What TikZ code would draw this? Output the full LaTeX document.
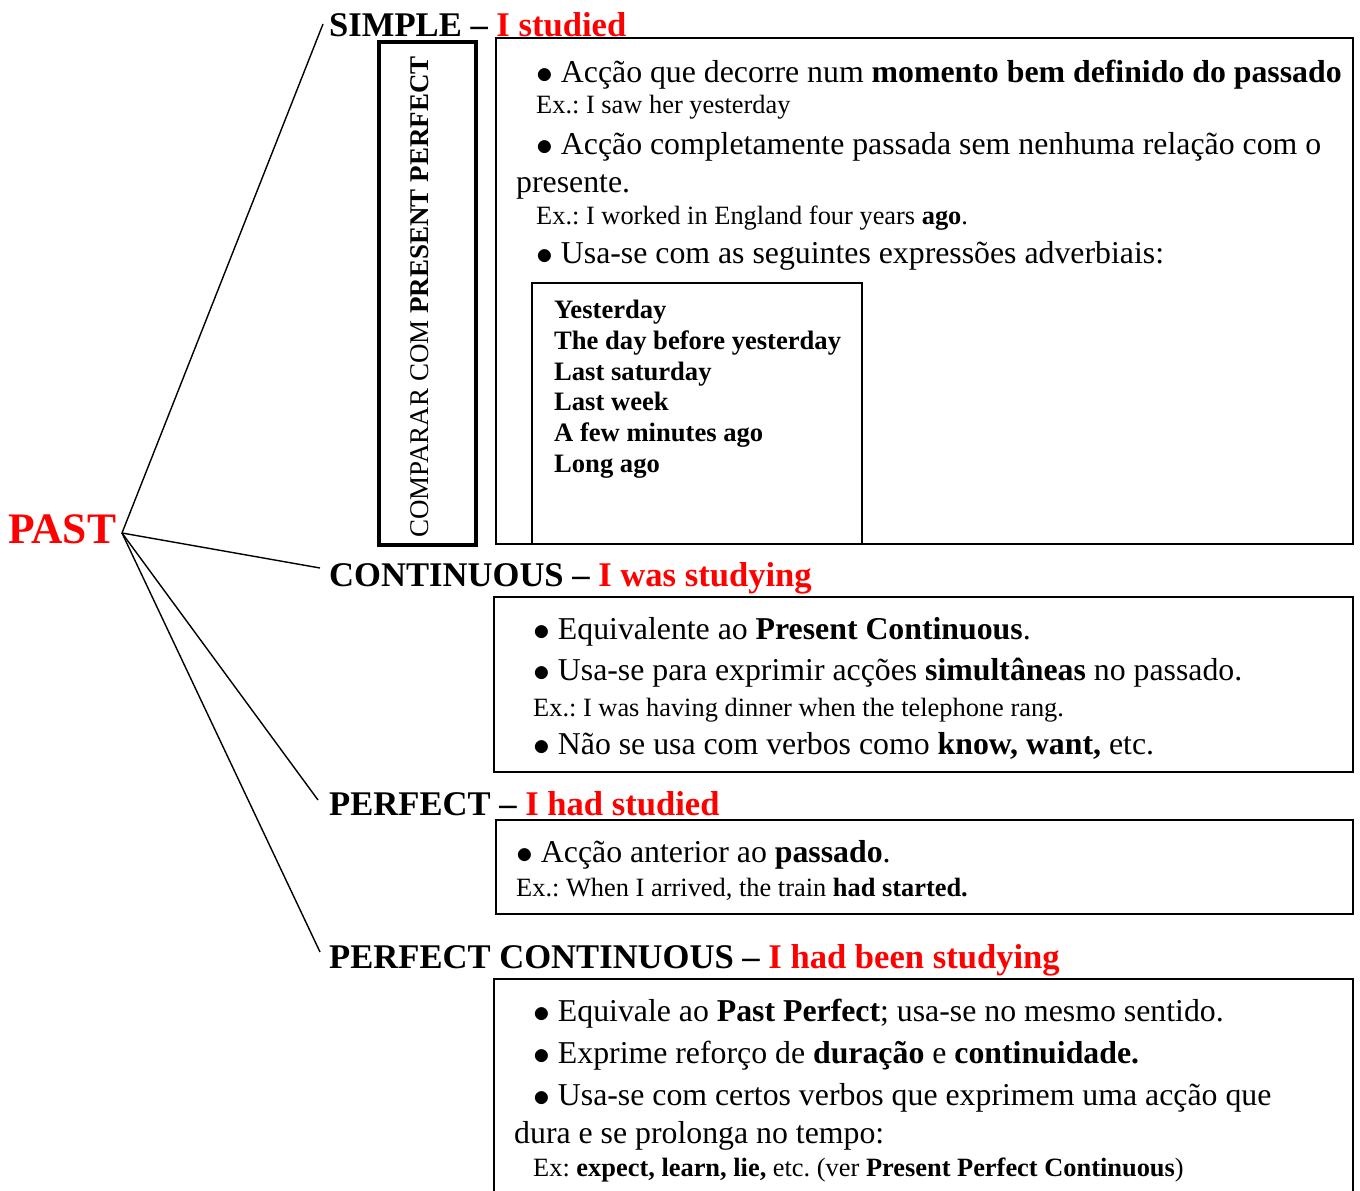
\documentclass[tikz,border=0pt]{standalone}
\usepackage{graphicx}
\usepackage{fontspec}
\setmainfont{Liberation Serif}
\frenchspacing
\definecolor{pastred}{RGB}{255,0,0}
\newcommand{\bul}{\raisebox{-0.06em}{\scalebox{1.35}{$\bullet$}}}
\tikzset{
  hdr/.style={anchor=base west, inner sep=0pt, font=\bfseries\fontsize{34.6}{35}\selectfont},
  body/.style={anchor=base west, inner sep=0pt, font=\fontsize{31.8}{32}\selectfont},
  exline/.style={anchor=base west, inner sep=0pt, font=\fontsize{26.4}{27}\selectfont},
  lst/.style={anchor=base west, inner sep=0pt, font=\bfseries\fontsize{26.6}{27}\selectfont},
  thinbox/.style={draw, line width=1.6pt},
  conn/.style={line width=1.4pt},
}
\begin{document}
\begin{tikzpicture}[x=1pt,y=-1pt]
\useasboundingbox (0,0) rectangle (1360,1191);
% root
\node[anchor=base west, inner sep=0pt, text=pastred, font=\bfseries\fontsize{43.5}{44}\selectfont] (past) at (8,543) {PAST};
\coordinate (hub) at (122,533);
\coordinate (e1) at (323,24);
\coordinate (e2) at (320,568);
\coordinate (e3) at (318,800);
\coordinate (e4) at (320,952);
\draw[conn] (e1) -- (hub) -- (e2);
\draw[conn] (hub) -- (e3);
\draw[conn] (hub) -- (e4);
% headers
\node[hdr] (h1) at (329,36) {SIMPLE -- \textcolor{pastred}{I studied}};
\node[hdr] (h2) at (329,586) {CONTINUOUS -- \textcolor{pastred}{I was studying}};
\node[hdr] (h3) at (329,815) {PERFECT -- \textcolor{pastred}{I had studied}};
\node[hdr] (h4) at (329,968) {PERFECT CONTINUOUS -- \textcolor{pastred}{I had been studying}};
% compare box
\draw[line width=3.6pt] (379,42) rectangle (476,545);
\node[rotate=90, anchor=base, inner sep=0pt, font=\fontsize{27}{27}\selectfont] (cmp) at (428,297) {COMPARAR COM \textbf{PRESENT PERFECT}};
% simple box
\draw[thinbox] (496,38) rectangle (1353,544);
\node[body] (s1) at (536,82) {\bul{} Acção que decorre num \textbf{momento bem definido do passado}};
\node[exline] (s2) at (536,113) {Ex.: I saw her yesterday};
\node[body] (s3) at (536,154) {\bul{} Acção completamente passada sem nenhuma relação com o};
\node[body] (s4) at (516,192) {presente.};
\node[exline] (s5) at (536,224) {Ex.: I worked in England four years \textbf{ago}.};
\node[body] (s6) at (536,263) {\bul{} Usa-se com as seguintes expressões adverbiais:};
\draw[thinbox] (532,283) rectangle (862,544);
\node[lst] (l1) at (554,318) {Yesterday};
\node[lst] (l2) at (554,349) {The day before yesterday};
\node[lst] (l3) at (554,380) {Last saturday};
\node[lst] (l4) at (554,410) {Last week};
\node[lst] (l5) at (554,441) {A few minutes ago};
\node[lst] (l6) at (554,472) {Long ago};
% continuous box
\draw[thinbox] (494,597) rectangle (1353,772);
\node[body] (c1) at (533,639) {\bul{} Equivalente ao \textbf{Present Continuous}.};
\node[body] (c2) at (533,680) {\bul{} Usa-se para exprimir acções \textbf{simultâneas} no passado.};
\node[exline] (c3) at (533,716) {Ex.: I was having dinner when the telephone rang.};
\node[body] (c4) at (533,754) {\bul{} Não se usa com verbos como \textbf{know, want,} etc.};
% perfect box
\draw[thinbox] (496,820) rectangle (1353,914);
\node[body] (p1) at (516,862) {\bul{} Acção anterior ao \textbf{passado}.};
\node[exline] (p2) at (516,896) {Ex.: When I arrived, the train \textbf{had started.}};
% perfect continuous box (open at bottom)
\draw[thinbox] (494,1195) -- (494,979) -- (1353,979) -- (1353,1195);
\node[body] (q1) at (533,1021) {\bul{} Equivale ao \textbf{Past Perfect}; usa-se no mesmo sentido.};
\node[body] (q2) at (533,1063) {\bul{} Exprime reforço de \textbf{duração} e \textbf{continuidade.}};
\node[body] (q3) at (533,1105) {\bul{} Usa-se com certos verbos que exprimem uma acção que};
\node[body] (q4) at (514,1143) {dura e se prolonga no tempo:};
\node[exline] (q5) at (533,1176) {Ex: \textbf{expect, learn, lie,} etc. (ver \textbf{Present Perfect Continuous})};
\end{tikzpicture}
\end{document}
